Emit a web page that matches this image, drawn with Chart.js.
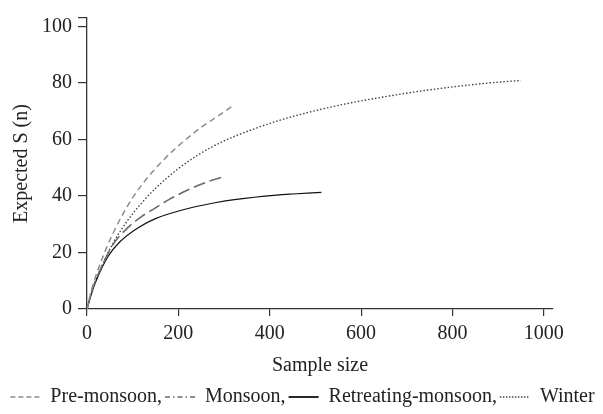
<!DOCTYPE html>
<html>
<head>
<meta charset="utf-8">
<script src="https://cdn.jsdelivr.net/npm/chart.js@4"></script>
<style>
  body { margin: 0; background: #fff; }
</style>
</head>
<body>
<canvas id="grafico" width="603" height="414"></canvas>
<script>
const seriesNames = ['Pre-monsoon,', 'Monsoon,', 'Retreating-monsoon,', 'Winter'];

// sample size (x) and expected S(n) (y) for each curve
const preX = [0, 10, 20, 40, 60, 80, 100, 130, 160, 190, 220, 250, 280, 320];
const preY = [0, 6.8, 12, 20.6, 27.8, 34, 39.4, 46, 51.5, 56.3, 60.5, 64.3, 67.6, 72];

const monX = [0, 10, 20, 40, 60, 90, 120, 150, 180, 210, 240, 270, 303];
const monY = [0, 6, 10.5, 17.7, 23.5, 28.9, 32.8, 35.8, 38.8, 41.3, 43.5, 45.4, 47];

const retX = [0, 10, 20, 46, 72, 112, 150, 217, 280, 327, 415, 450, 513];
const retY = [0, 5.5, 10, 18.6, 23.8, 28.8, 32, 35.4, 37.6, 38.8, 40.3, 40.7, 41.3];

const winX = [0, 10, 20, 40, 60, 90, 120, 150, 200, 250, 300, 360, 420, 480, 560, 640, 720, 800, 880, 950];
const winY = [0, 6, 10.5, 17.9, 24.1, 31.6, 37.6, 42.7, 49.7, 55.2, 59.5, 63.4, 66.7, 69.4, 72.4, 74.8, 76.9, 78.6, 80, 80.9];

const xTicks = [0, 200, 400, 600, 800, 1000];
const yTicks = [0, 20, 40, 60, 80, 100];

// line look per series (legend shows monsoon as dash-dot)
const colors = ['#8c8c8c', '#6a6a6a', '#111111', '#444444'];
const dashes = [[6, 4], [12, 5], [], [1.5, 2]];
const legendDashes = [[5, 3], [5, 3, 1.5, 3], [], [1.5, 1.5]];

Chart.defaults.font.family = "'Liberation Serif', 'Times New Roman', serif";
Chart.defaults.color = '#222';

const toPoints = (xs, ys) => xs.map((x, i) => ({ x: x, y: ys[i] }));

const grafico = document.getElementById('grafico');

new Chart(grafico, {
    type: 'line',
    data: {
        datasets: [
            { label: seriesNames[0], data: toPoints(preX, preY), borderColor: colors[0], borderWidth: 1.5, borderDash: dashes[0] },
            { label: seriesNames[1], data: toPoints(monX, monY), borderColor: colors[1], borderWidth: 1.6, borderDash: dashes[1] },
            { label: seriesNames[2], data: toPoints(retX, retY), borderColor: colors[2], borderWidth: 1.2, borderDash: dashes[2] },
            { label: seriesNames[3], data: toPoints(winX, winY), borderColor: colors[3], borderWidth: 1.4, borderDash: dashes[3] }
        ]
    },
    options: {
        responsive: false,
        animation: false,
        layout: { padding: { left: 2, top: 0, right: 0, bottom: -3 } },
        elements: {
            point: { radius: 0, pointStyle: 'line' },
            line: { cubicInterpolationMode: 'monotone', fill: false }
        },
        scales: {
            x: {
                type: 'linear',
                min: 0,
                max: 1020,
                afterBuildTicks: s => { s.ticks = xTicks.map(v => ({ value: v })); },
                grid: { drawOnChartArea: false, tickLength: 7, color: '#333', lineWidth: 1.2 },
                border: { color: '#333', width: 1.3 },
                ticks: { font: { size: 20 }, padding: 6, maxRotation: 0, callback: v => String(v) },
                title: { display: true, text: 'Sample size', font: { size: 20 }, padding: { top: 2, bottom: 6 } }
            },
            y: {
                min: 0,
                max: 103,
                afterBuildTicks: s => { s.ticks = yTicks.concat([103]).map(v => ({ value: v })); },
                grid: { drawOnChartArea: false, tickLength: 9, color: '#333', lineWidth: 1.2 },
                border: { color: '#333', width: 1.3 },
                ticks: { font: { size: 20 }, padding: 6, callback: v => v > 100 ? '' : String(v) },
                title: { display: true, text: 'Expected S (n)', font: { size: 20 }, padding: { top: 8, bottom: 2 } }
            },
            // empty axis, only keeps the right margin free
            yr: {
                position: 'right',
                grid: { display: false },
                border: { display: false },
                ticks: { display: false },
                afterFit: s => { s.width = 50; }
            }
        },
        plugins: {
            legend: {
                position: 'bottom',
                labels: {
                    usePointStyle: true,
                    pointStyleWidth: 30,
                    font: { size: 20, lineHeight: 1 },
                    padding: 3,
                    generateLabels: chart => {
                        const items = Chart.defaults.plugins.legend.labels.generateLabels(chart);
                        items.forEach((it, i) => {
                            it.strokeStyle = colors[i];
                            it.lineDash = legendDashes[i];
                            it.lineWidth = i === 2 ? 1.8 : 1.3;
                            it.fontColor = '#222';
                        });
                        return items;
                    }
                }
            },
            tooltip: { enabled: false }
        }
    }
});
</script>
</body>
</html>
